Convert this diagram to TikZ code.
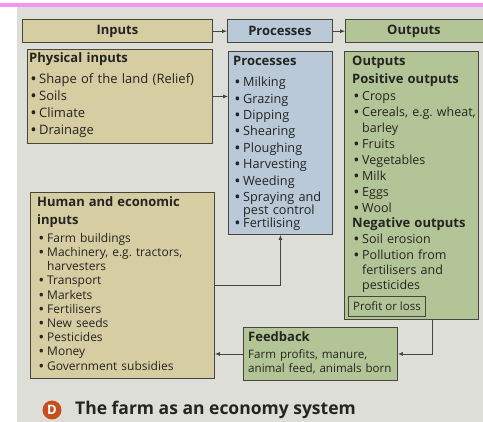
\documentclass[tikz,border=0pt]{standalone}
\usepackage{fontspec}
\setmainfont{Open Sans}
\usetikzlibrary{arrows.meta,calc}

\definecolor{pagebg}{RGB}{221,222,215}
\definecolor{infill}{RGB}{215,205,162}
\definecolor{prfill}{RGB}{185,201,215}
\definecolor{outfill}{RGB}{179,197,151}
\definecolor{edge}{RGB}{70,70,62}
\definecolor{ink}{RGB}{36,36,34}
\definecolor{pinkline}{RGB}{244,150,240}
\definecolor{badge}{RGB}{200,78,30}

% bullet item, continuation line and bold box title
\newcommand\bul{\hspace*{2pt}\makebox[8pt][l]{\bfseries\textbullet}}
\newcommand\cnt{\hspace*{10pt}}
\newcommand\ttl[1]{{\fontsize{13}{16}\selectfont\bfseries #1}}

\tikzset{
  box/.style={draw=edge, line width=0.9pt, rectangle, inner sep=0pt, anchor=north west},
  hdr/.style={box, font=\fontsize{13}{16}\selectfont\bfseries, text=ink},
  body/.style={anchor=base west, inner sep=0pt, text width=#1, align=left, text=ink},
  flow/.style={draw=edge, line width=0.8pt, -{Latex[length=5pt,width=4pt]}},
}

\begin{document}
\begin{tikzpicture}[x=1pt,y=-1pt]
\useasboundingbox (0,0) rectangle (483,422);
% page, top rule
\fill[white] (0,0) rectangle (483,422);
\fill[pagebg] (17,7) rectangle (483,422);
\fill[pinkline] (0,3.5) rectangle (483,7);

% header row
\node[hdr, fill=infill, minimum width=190, minimum height=23.5] (inH) at (22,19) {Inputs};
\node[hdr, fill=prfill, minimum width=105, minimum height=23.5] (prH) at (227,19) {Processes};
\node[hdr, fill=outfill, minimum width=145, minimum height=23.5, text width=145, align=center] (ouH) at (345,19) {\hspace*{-8pt}Outputs};
\draw[flow] (inH) -- (prH);
\draw[flow] (prH) -- (ouH);

% content boxes
\node[box, fill=infill, minimum width=185, minimum height=94] (phys) at (27,49) {};
\node[box, fill=prfill, minimum width=104, minimum height=183] (proc) at (228,51) {};
\node[box, fill=outfill, minimum width=134, minimum height=268] (outp) at (344,51) {};
\node[box, fill=infill, minimum width=184, minimum height=186] (hum) at (30,192) {};
\node[box, fill=outfill, minimum width=154, minimum height=53] (fb) at (243,327) {};
\node[box, fill=outfill, minimum width=77, minimum height=20,
      font=\fontsize{11.5}{14}\selectfont, text=ink] (pl) at (348,296) {Profit or loss};

% texts
\node[body=180, font=\fontsize{13}{16.7}\selectfont] (phys-t) at (29,63) {%
\ttl{Physical inputs}\\[4.3pt]
\bul Shape of the land (Relief)\\
\bul Soils\\
\bul Climate\\
\bul Drainage};

\node[body=100, font=\fontsize{12.7}{16.4}\selectfont] (proc-t) at (233,66) {%
\ttl{Processes}\\[4.3pt]
\bul Milking\\
\bul Grazing\\
\bul Dipping\\
\bul Shearing\\
\bul Ploughing\\
\bul Harvesting\\
\bul Weeding\\
\bul Spraying and\\[-3.4pt]
\cnt pest control\\[-3.4pt]
\bul Fertilising};

\node[body=128, font=\fontsize{12.5}{16}\selectfont] (outp-t) at (352,66) {%
\ttl{Outputs}\\[2pt]
\ttl{Positive outputs}\\[1pt]
\bul Crops\\
\bul Cereals, e.g.\ wheat,\\
\cnt barley\\
\bul Fruits\\
\bul Vegetables\\
\bul Milk\\
\bul Eggs\\
\bul Wool\\[-1pt]
\ttl{Negative outputs}\\
\bul Soil erosion\\[-0.5pt]
\bul Pollution from\\[-0.5pt]
\cnt fertilisers and\\[-1pt]
\cnt pesticides};

\node[body=178, font=\fontsize{12}{14.2}\selectfont] (hum-t) at (37,207) {%
\ttl{Human and economic}\\[3.5pt]
\ttl{inputs}\\[3.5pt]
\bul Farm buildings\\
\bul Machinery, e.g.\ tractors,\\
\cnt harvesters\\
\bul Transport\\
\bul Markets\\
\bul Fertilisers\\
\bul New seeds\\
\bul Pesticides\\
\bul Money\\
\bul Government subsidies};

\node[body=150, font=\fontsize{11.6}{14}\selectfont] (fb-t) at (248,342) {%
\ttl{Feedback}\\[3pt]
Farm profits, manure,\\
animal feed, animals born};

% flows between boxes
\draw[flow] (phys.east) -- (phys.east -| proc.west);
\draw[flow] (hum.east) -| (proc.south);
\draw[flow] ([xshift=21pt]outp.south) |- (fb.east);
\draw[flow] (fb.west) -- (fb.west -| hum.east);

% caption
\node[circle, fill=badge, inner sep=0pt, minimum size=19, text=white,
      font=\fontsize{13}{13}\selectfont\bfseries] (badge) at (52,410) {D};
\node[anchor=base west, inner sep=0pt, text=ink,
      font=\fontsize{17.5}{20}\selectfont\bfseries] (cap) at (75,415) {The farm as an economy system};
\end{tikzpicture}
\end{document}
